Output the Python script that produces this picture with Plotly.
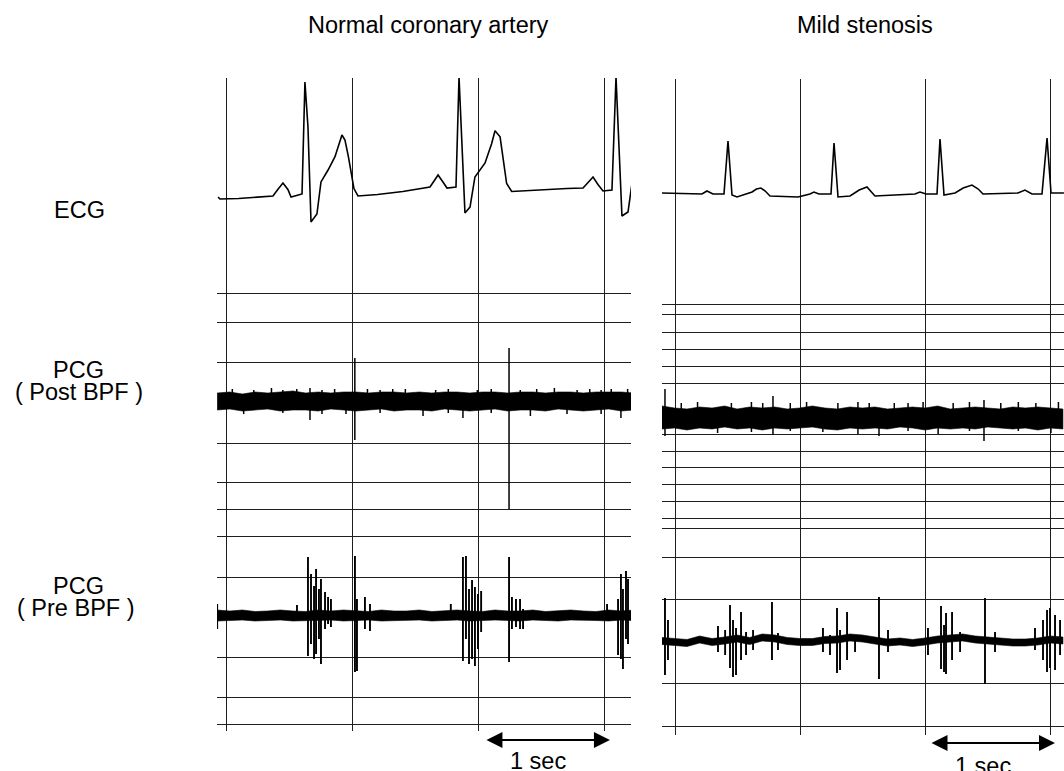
import plotly.graph_objects as go

# ------------------------------------------------------------------
# DATA (time in seconds, ECG in mV, PCG in arbitrary units)
# ------------------------------------------------------------------
panel_titles = ["Normal coronary artery", "Mild stenosis"]
channel_labels = ["ECG", "PCG", "( Post BPF )", "PCG", "( Pre BPF )"]
scale_label = "1 sec"

# ECG - normal coronary artery
ecg_normal_t = [-0.063, -0.048, 0.10, 0.25, 0.372, 0.41, 0.451, 0.49, 0.515, 0.602, 0.625, 0.649,
                0.673, 0.720, 0.752, 0.808, 0.863, 0.918, 0.942, 0.969, 0.995, 1.013, 1.045, 1.2,
                1.4, 1.615, 1.65, 1.679, 1.715, 1.750, 1.821, 1.845, 1.892, 1.932, 1.971, 2.051,
                2.103, 2.130, 2.17, 2.196, 2.222, 2.262, 2.5, 2.7, 2.827, 2.87, 2.906, 2.945,
                2.985, 3.056, 3.088, 3.135, 3.183, 3.215]
ecg_normal_v = [-0.035, -0.055, -0.05, -0.04, -0.025, 0.04, 0.106, 0.04, -0.035, -0.005, 1.12, 0.668,
                -0.286, -0.206, 0.116, 0.236, 0.37, 0.588, 0.538, 0.37, 0.17, 0.05, -0.025, -0.01,
                0.02, 0.065, 0.13, 0.186, 0.12, 0.055, 0.065, 1.17, -0.196, -0.136, 0.166, 0.307,
                0.50, 0.63, 0.57, 0.34, 0.10, 0.02, 0.04, 0.05, 0.055, 0.12, 0.166, 0.09,
                0.025, 0.035, 1.17, -0.226, -0.186, 0.106]

# ECG - mild stenosis
ecg_mild_t = [-0.104, 0.215, 0.255, 0.303, 0.391, 0.423, 0.455, 0.495, 0.615, 0.65, 0.686, 0.72,
              0.758, 0.982, 1.077, 1.109, 1.149, 1.245, 1.269, 1.301, 1.397, 1.47, 1.532, 1.596,
              1.915, 1.955, 2.003, 2.091, 2.115, 2.147, 2.235, 2.30, 2.370, 2.42, 2.458, 2.737,
              2.793, 2.849, 2.929, 2.969, 3.001, 3.104]
ecg_mild_v = [0.01, 0.0, 0.03, 0.0, 0.0, 0.533, -0.01, -0.03, 0.02, 0.05, 0.06, 0.03,
              -0.02, -0.03, 0.0, 0.02, 0.0, 0.0, 0.513, -0.03, -0.02, 0.04, 0.07, -0.02,
              0.0, 0.02, 0.0, 0.0, 0.553, -0.01, 0.01, 0.06, 0.09, 0.05, 0.0, 0.01,
              0.04, 0.0, 0.0, 0.563, 0.01, 0.01]

# PCG noise-band envelopes, sampled every 0.1 s
band_step = 0.1
post_normal_t0 = -0.07
post_normal_upper = [0.9, 1.0, 0.8, 1.0, 0.9, 1.0, 1.1, 0.9, 1.0, 0.9, 1.0, 1.0, 0.9, 1.0, 1.0, 0.9, 1.0,
                     0.9, 1.0, 1.0, 0.9, 1.0, 1.0, 0.9, 1.0, 1.0, 0.9, 1.0, 1.0, 0.9, 1.0, 1.0, 1.0, 0.9]
post_normal_lower = [-0.8, -0.7, -0.9, -0.8, -0.7, -0.9, -0.8, -0.8, -0.9, -0.7, -0.8, -0.9, -0.8, -0.7,
                     -0.9, -0.8, -0.8, -0.9, -0.7, -0.8, -0.9, -0.8, -0.7, -0.9, -0.8, -0.8, -0.9, -0.7,
                     -0.8, -0.9, -0.8, -0.7, -0.9, -0.8]
post_mild_t0 = -0.104
post_mild_upper = [1.2, 1.0, 0.9, 1.1, 1.0, 1.2, 0.9, 1.1, 1.0, 1.1, 0.9, 1.0, 1.2, 1.0, 0.9, 1.1, 1.0,
                   1.1, 0.9, 1.0, 1.1, 1.0, 1.2, 0.9, 1.0, 1.1, 1.0, 0.9, 1.1, 1.0, 1.1, 1.0, 0.9]
post_mild_lower = [-1.1, -1.0, -1.2, -1.0, -1.1, -0.9, -1.1, -1.0, -1.2, -1.0, -1.1, -1.0, -0.9, -1.1,
                   -1.2, -1.0, -1.1, -1.0, -1.1, -0.9, -1.0, -1.2, -1.0, -1.1, -1.0, -1.1, -0.9, -1.0,
                   -1.1, -1.0, -1.2, -1.0, -1.1]
pre_normal_t0 = -0.07
pre_normal_upper = [0.6, 0.5, 0.6, 0.45, 0.5, 0.6, 0.5, 0.45, 0.6, 0.5, 0.6, 0.5, 0.45, 0.6, 0.5, 0.5,
                    0.6, 0.45, 0.5, 0.6, 0.5, 0.45, 0.6, 0.5, 0.5, 0.6, 0.45, 0.5, 0.6, 0.5, 0.45,
                    0.6, 0.5, 0.6]
pre_normal_lower = [-0.5, -0.45, -0.4, -0.5, -0.45, -0.4, -0.5, -0.45, -0.45, -0.4, -0.5, -0.45, -0.4,
                    -0.5, -0.45, -0.45, -0.4, -0.5, -0.45, -0.4, -0.5, -0.45, -0.4, -0.45, -0.5, -0.4,
                    -0.45, -0.5, -0.4, -0.45, -0.45, -0.5, -0.4, -0.45]
pre_mild_t0 = -0.104
pre_mild_upper = [0.45, 0.35, 0.25, 0.6, 0.35, 0.5, 0.7, 0.45, 0.8, 0.7, 0.45, 0.35, 0.35, 0.55, 0.6,
                  0.8, 0.7, 0.5, 0.3, 0.4, 0.25, 0.4, 0.6, 0.7, 0.8, 0.6, 0.5, 0.4, 0.3, 0.3, 0.4,
                  0.6, 0.5]
pre_mild_lower = [-0.25, -0.35, -0.45, -0.1, -0.35, -0.2, 0.0, -0.25, 0.1, 0.0, -0.25, -0.35, -0.35,
                  -0.15, -0.1, 0.1, 0.0, -0.2, -0.4, -0.3, -0.45, -0.3, -0.1, 0.0, 0.1, -0.1, -0.2,
                  -0.3, -0.4, -0.4, -0.3, -0.1, -0.2]

# PCG spikes: (time s, top a.u., bottom a.u.)
post_normal_spikes = [(0.05, 1.3, 0.0), (0.14, 0.0, -1.2), (0.22, 1.2, 0.0), (0.36, 1.4, 0.0),
                      (0.45, 1.2, -1.1), (0.56, 1.3, 0.0), (0.665, 1.4, -1.8), (0.76, 1.2, -1.2),
                      (0.86, 1.3, 0.0), (0.95, 0.0, -1.2), (1.02, 4.4, -3.8), (1.12, 1.3, 0.0),
                      (1.22, 1.2, -1.1), (1.32, 1.3, 0.0), (1.42, 1.3, 0.0), (1.56, 0.0, -1.4),
                      (1.66, 1.2, 0.0), (1.76, 1.3, -1.1), (1.876, 0.0, -1.6), (1.99, 1.2, 0.0),
                      (2.10, 1.3, -1.1), (2.241, 5.4, -10.7), (2.33, 1.2, 0.0), (2.41, 0.0, -1.4),
                      (2.46, 1.3, 0.0), (2.60, 1.4, 0.0), (2.70, 0.0, -1.2), (2.78, 1.2, 0.0),
                      (2.88, 1.3, 0.0), (2.97, 1.2, -1.2), (3.05, 1.3, 0.0), (3.127, 0.0, -1.6),
                      (3.18, 1.3, 0.0)]
post_mild_spikes = [(-0.08, 2.9, -1.8), (0.05, 1.5, 0.0), (0.18, 1.6, 0.0), (0.34, 0.0, -1.5),
                    (0.45, 1.5, 0.0), (0.61, 1.6, -1.4), (0.70, 1.5, 0.0), (0.782, 2.2, -1.7),
                    (0.92, 1.5, -1.3), (1.05, 1.6, 0.0), (1.18, 0.0, -1.4), (1.30, 1.5, 0.0),
                    (1.46, 1.6, -1.6), (1.55, 1.5, 0.0), (1.628, 0.0, -1.8), (1.75, 1.5, 0.0),
                    (1.86, 1.5, -1.3), (1.98, 1.6, 0.0), (2.10, 0.0, -1.6), (2.22, 1.5, 0.0),
                    (2.35, 1.6, -1.3), (2.466, 1.8, -2.3), (2.60, 1.5, 0.0), (2.74, 1.6, -1.3),
                    (2.88, 1.5, 0.0), (3.0, 0.0, -1.5), (3.06, 1.6, 0.0)]
pre_normal_spikes = [(-0.07, 1.2, -1.3), (0.562, 1.1, 0.0), (0.649, 5.9, -4.0), (0.673, 4.2, -2.8),
                     (0.697, 3.0, -4.3), (0.713, 4.7, -3.8), (0.736, 2.7, -2.3), (0.752, 3.7, -4.8),
                     (0.784, 2.4, -1.3), (0.808, 1.9, -0.8), (0.831, 1.7, -1.1), (1.021, 6.0, -5.6),
                     (1.037, 1.7, -5.5), (1.10, 1.9, -1.3), (1.14, 1.2, -1.5), (1.78, 1.2, 0.0),
                     (1.876, 5.9, -4.5), (1.90, 6.0, -2.3), (1.924, 2.7, -4.8), (1.948, 3.6, -4.3),
                     (1.971, 2.9, -5.0), (1.995, 2.2, -3.3), (2.02, 2.5, -1.6), (2.241, 5.9, -4.6),
                     (2.264, 1.9, -1.3), (2.296, 1.7, -1.1), (2.328, 1.7, -1.3), (2.352, 0.7, -1.3),
                     (3.017, 1.2, 0.0), (3.104, 1.7, -3.9), (3.127, 4.2, -4.3), (3.143, 2.7, -5.3),
                     (3.167, 4.5, -2.3), (3.183, 3.7, -2.8)]
pre_mild_spikes = [(-0.08, 4.4, -3.3), (-0.056, 2.2, -1.8), (0.343, 1.6, -1.0), (0.40, 1.2, -1.3),
                   (0.439, 3.7, -2.6), (0.463, 2.2, -3.5), (0.487, 1.4, -3.3), (0.527, 3.0, -1.8),
                   (0.567, 1.0, -1.3), (0.623, 1.2, -0.8), (0.774, 4.0, -1.8), (0.822, 0.9, -0.8),
                   (1.181, 1.4, -1.0), (1.237, 0.7, -1.3), (1.293, 3.4, -3.1), (1.317, 1.2, -2.8),
                   (1.373, 3.0, -1.8), (1.437, 0.7, -1.0), (1.628, 4.5, -3.7), (1.70, 1.2, -1.0),
                   (2.019, 1.4, -1.3), (2.123, 3.6, -2.7), (2.147, 1.7, -3.0), (2.163, 2.9, -3.2),
                   (2.211, 3.0, -1.8), (2.275, 1.0, -1.0), (2.474, 4.4, -4.2), (2.554, 1.0, -1.0),
                   (2.873, 1.4, -0.8), (2.937, 2.2, -1.8), (2.969, 3.2, -3.0), (2.993, 3.4, -2.6),
                   (3.033, 2.7, -2.8), (3.073, 2.2, -1.3)]

# ------------------------------------------------------------------
# LAYOUT GEOMETRY (pixels of the 1064 x 771 page)
# ------------------------------------------------------------------
W, H = 1064, 771
ECG_GAIN = 99.5   # px per mV
PCG_GAIN = 10.0   # px per a.u.
INK = "#000000"
GRID = "#1e1e1e"
FONT = "Liberation Sans, Arial, Helvetica, sans-serif"
FSIZE = 23.5

panels = [
    dict(xpx=(217, 631), ypx=(78, 731), t0px=226, px_per_s=126.3,
         base=dict(ecg=193.5, post=402, pre=616),
         hlines=[79, 293, 322, 362, 443, 482, 509, 536, 577, 657, 697, 724],
         ecg=(ecg_normal_t, ecg_normal_v),
         post=(post_normal_t0, post_normal_upper, post_normal_lower, post_normal_spikes),
         pre=(pre_normal_t0, pre_normal_upper, pre_normal_lower, pre_normal_spikes)),
    dict(xpx=(662, 1064), ypx=(79, 735), t0px=675, px_per_s=125.3,
         base=dict(ecg=194, post=418, pre=642),
         hlines=[80, 304, 314, 332, 349, 366, 383, 434, 451, 467, 484, 501, 518, 528, 557, 599, 683, 726],
         ecg=(ecg_mild_t, ecg_mild_v),
         post=(post_mild_t0, post_mild_upper, post_mild_lower, post_mild_spikes),
         pre=(pre_mild_t0, pre_mild_upper, pre_mild_lower, pre_mild_spikes)),
]

fig = go.Figure()


def ypos(p, ch, v, gain):
    return (p["ypx"][1] - p["base"][ch]) + gain * v


for i, p in enumerate(panels, start=1):
    xa = "x" if i == 1 else f"x{i}"
    ya = "y" if i == 1 else f"y{i}"
    et, ev = p["ecg"]
    fig.add_trace(go.Scatter(x=et, y=[ypos(p, "ecg", v, ECG_GAIN) for v in ev], mode="lines",
                             line=dict(color=INK, width=1.6), xaxis=xa, yaxis=ya, hoverinfo="skip"))
    for ch, sw in (("post", 1.5), ("pre", 1.9)):
        t0, up, lo, spikes = p[ch]
        bt = [t0 + band_step * k for k in range(len(up))]
        fig.add_trace(go.Scatter(
            x=bt + bt[::-1],
            y=[ypos(p, ch, v, PCG_GAIN) for v in up] + [ypos(p, ch, v, PCG_GAIN) for v in lo[::-1]],
            fill="toself", fillcolor=INK, mode="lines", line=dict(color=INK, width=0.6),
            xaxis=xa, yaxis=ya, hoverinfo="skip"))
        sx, sy = [], []
        for t, top, bot in spikes:
            sx += [t, t, None]
            sy += [ypos(p, ch, top, PCG_GAIN), ypos(p, ch, bot, PCG_GAIN), None]
        fig.add_trace(go.Scatter(x=sx, y=sy, mode="lines", line=dict(color=INK, width=sw),
                                 xaxis=xa, yaxis=ya, hoverinfo="skip"))

    x0, x1 = p["xpx"]
    ytop, ybot = p["ypx"]
    xrange = [(x0 - p["t0px"]) / p["px_per_s"], (x1 - p["t0px"]) / p["px_per_s"]]
    yaxis_key = "yaxis" if i == 1 else f"yaxis{i}"
    xaxis_key = "xaxis" if i == 1 else f"xaxis{i}"
    fig.update_layout(**{
        xaxis_key: dict(domain=[x0 / W, x1 / W], range=xrange, anchor=ya,
                        tickvals=[0, 1, 2, 3], showticklabels=False, ticks="",
                        showgrid=True, gridcolor=GRID, gridwidth=1.3, zeroline=False,
                        showline=False, fixedrange=True),
        yaxis_key: dict(domain=[1 - ybot / H, 1 - ytop / H], range=[0, ybot - ytop], anchor=xa,
                        tickvals=[ybot - h for h in p["hlines"]], showticklabels=False, ticks="",
                        showgrid=True, gridcolor=GRID, gridwidth=1.3, zeroline=False,
                        showline=False, fixedrange=True),
    })

annotations = []


def text_ann(txt, x, y, xref="paper"):
    return dict(x=x, y=y, xref=xref, yref="paper", text=txt, showarrow=False,
                xanchor="center", yanchor="middle",
                font=dict(size=FSIZE, color=INK, family=FONT))


annotations.append(text_ann(panel_titles[0], 428 / W, 1 - 25 / H))
annotations.append(text_ann(panel_titles[1], 865 / W, 1 - 25 / H))
for txt, (cx, cy) in zip(channel_labels, [(79, 210), (78, 370), (79, 392), (78, 586), (76, 608)]):
    annotations.append(text_ann(txt, cx / W, 1 - cy / H))
for xa, (ta, tb), ypx, tc, typx in [("x", (2.05, 3.04), 740, 2.47, 761),
                                    ("x2", (2.035, 3.033), 743, 2.458, 766)]:
    annotations.append(dict(x=tb, y=1 - ypx / H, xref=xa, yref="paper", ax=ta, ay=0,
                            axref=xa, ayref="pixel", text="", showarrow=True,
                            arrowside="end+start", arrowhead=2, arrowsize=1.6, arrowwidth=2,
                            arrowcolor=INK, standoff=0, startstandoff=0))
    annotations.append(text_ann(scale_label, tc, 1 - typx / H, xref=xa))

fig.update_layout(width=W, height=H, margin=dict(l=0, r=0, t=0, b=0),
                  paper_bgcolor="white", plot_bgcolor="white", showlegend=False,
                  annotations=annotations)

fig.write_html("out.html")
